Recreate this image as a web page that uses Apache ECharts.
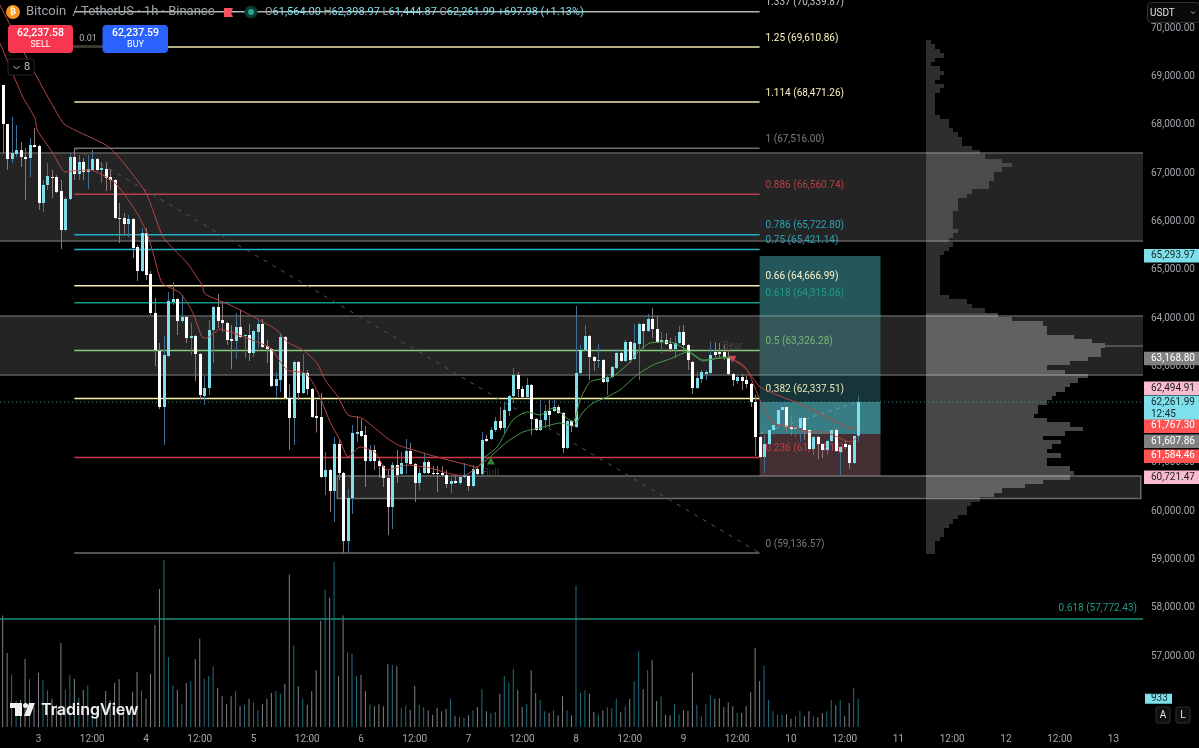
<!DOCTYPE html>
<html>
<head>
<meta charset="utf-8">
<title>BTCUSDT 1h</title>
<style>html,body{margin:0;padding:0;background:#000}#chart{width:1199px;height:748px}</style>
<script src="https://cdn.jsdelivr.net/npm/echarts@6/dist/echarts.min.js"></script>
</head>
<body>
<div id="chart"></div>
<script>
// Hourly bars: index 0 is the 00:00 candle of the 3rd.
const firstBar = -8;
const opens = [68824,68017,67293,67396,67479,67334,67313,67582,67562,66382,66755,66920,66920,66630,65823,66465,67334,66982,67231,67024,67065,67293,67065,67086,66920,66858,66071,66071,65947,66051,65471,64974,65761,64912,64105,63318,62159,63215,64333,64395,63939,64022,63587,63629,63256,62387,62552,63753,64229,63960,63898,63566,63525,63815,63629,63650,63277,63712,63877,63422,63360,62594,62718,63608,62345,61931,63091,62449,62863,62532,61973,61952,60710,60855,60420,61393,60793,59385,60275,61600,61662,61580,61041,61269,61041,60938,60689,60089,60958,60772,61000,61248,60979,60586,60793,61020,60793,60793,60793,60752,60565,60627,60586,60710,60731,60524,60876,60772,61497,61497,61683,61869,61724,62076,62387,62821,62532,62366,62615,61911,61683,61890,62076,62076,62159,62035,61310,61869,61745,62863,63339,63629,63194,63111,63132,62677,62780,62966,63277,63111,63505,63153,63463,63877,63732,63981,63774,63505,63546,63463,63360,63484,63712,63443,63091,62552,62739,62842,62863,63298,63298,63298,63194,62842,62697,62780,62718,62635,62263,61538,61124,61393,61683,61786,62097,62159,61745,61704,61724,61931,61683,61290,61538,61393,61269,61455,61683,61228,61393,61372,61000,61564];
const highs = [68830,68017,68162,67996,67645,67520,67727,67934,67590,66858,67210,67065,66962,66858,66506,67417,67520,67376,67313,67376,67479,67313,67231,67231,67065,66879,66382,66175,66134,66071,65513,65864,65864,64974,64415,63484,63629,64540,64747,64415,64478,64043,63898,63650,63277,62801,63960,64250,64498,64333,63919,63856,64105,64167,63660,63877,63753,63981,63981,63546,63380,62884,63691,63629,62635,63111,63111,63256,62925,62552,62304,62449,61228,60876,61538,61497,60814,60462,61786,61973,61911,61766,61372,61372,61062,60958,60855,61020,61269,61228,61497,61414,61000,60896,61207,61062,60938,60938,60938,60855,60689,60752,60752,61000,60752,60958,60917,61642,61580,61745,61952,62159,62242,62407,62966,62884,62594,62759,62635,61931,62304,62200,62304,62304,62200,62056,61890,61890,64250,63443,63856,63650,63215,63463,63153,62801,63008,63360,63298,63546,63525,63877,63898,63898,64084,64208,64043,63712,63691,63587,63629,63836,63856,63463,63111,62884,62925,62925,63505,63505,63484,63443,63339,62863,62821,62842,62801,62656,62407,61559,61580,61724,61848,62138,62263,62180,61993,61786,61973,61952,61704,61559,61559,61414,61476,61828,61724,61352,61476,61393,61580,62398.97];
const lows = [67417,67065,67210,67334,67127,66444,66920,67530,66237,66196,66651,66485,66589,65429,65802,66444,66858,66858,66858,66672,67044,67044,66796,66630,66651,66051,65554,65720,65678,65243,64767,64954,64788,64064,63008,62118,61372,63194,64270,63650,63898,63484,63236,62697,62325,62200,62407,63070,63794,63712,63443,62946,63153,63587,63173,63111,63194,63380,63380,63070,62573,62345,62470,62325,61269,61372,62304,62428,62407,61931,61631,60689,60337,59986,59779,60648,59137,59137,59944,61435,61538,60503,61020,60855,60689,60503,59510,59634,60586,60752,60772,60958,60193,60441,60772,60772,60752,60400,60710,60482,60379,60565,60544,60689,60420,60503,60752,60752,61435,61476,61642,61683,61621,61973,62242,62366,62345,62345,61580,61662,61662,61724,61745,62056,62014,61207,61290,61642,61724,62842,63318,62718,62904,62966,62656,62407,62759,62946,63091,63091,63070,63132,62718,63360,63712,63587,63484,63277,63443,63298,63173,63463,63298,62925,62428,62532,62656,62718,62842,63173,63173,63132,62821,62594,62635,62511,62552,62159,61145,61103,60793,61372,61580,61766,61724,61642,61580,61538,61435,61476,61269,61166,61083,61103,61166,61435,61228,60752,61290,60876,60979,61444.87];
const closes = [68017,67293,67417,67479,67334,67293,67582,67541,66382,66755,66941,66899,66610,65823,66465,67334,66982,67231,67024,67086,67293,67065,67106,66899,66858,66071,66051,65947,66051,65450,64974,65761,64891,64105,63339,62159,63236,64353,64395,63939,64022,63587,63629,63256,62407,62552,63753,64229,63939,63898,63546,63525,63815,63608,63650,63277,63732,63877,63401,63360,62594,62739,63608,62345,61931,63091,62449,62863,62532,61952,61931,60710,60855,60420,61393,60793,59385,60275,61621,61642,61559,61041,61269,61041,60938,60689,60089,60958,60752,61000,61248,60979,60586,60793,61020,60793,60772,60772,60752,60565,60627,60586,60710,60752,60524,60876,60772,61476,61455,61683,61869,61724,62097,62387,62821,62532,62366,62615,61911,61683,61890,62076,61993,62159,62035,61310,61869,61766,62863,63339,63629,63194,63111,63132,62677,62780,62987,63277,63111,63505,63132,63484,63877,63732,63981,63774,63505,63546,63463,63360,63484,63712,63443,63132,62552,62759,62884,62884,63236,63236,63256,63194,62842,62718,62780,62697,62635,62263,61538,61124,61393,61683,61786,62097,62159,61745,61704,61745,61931,61683,61290,61538,61393,61269,61455,61683,61248,61331,61331,61000,61559,62261.99];
const volumes = [3685,2442,1738,880,902,2255,1573,660,1793,1540,1210,935,715,2772,1232,1705,1595,968,1232,1375,550,440,770,1188,880,1463,1573,660,550,1155,1815,1210,935,1749,3355,4554,5511,2310,1375,1232,770,1452,1507,2233,2915,1595,1683,2002,1287,1012,748,1012,1177,693,737,935,803,550,770,935,1122,1188,1100,1430,5038,2695,1342,935,737,1177,1870,3498,4543,4268,5445,1672,3685,2453,2420,1672,1727,1177,748,682,748,682,2068,2046,2002,638,715,572,1353,737,660,550,407,638,517,605,935,352,330,308,385,550,660,1243,517,462,495,1100,1683,1463,1925,1210,660,770,1870,1122,902,517,462,550,385,1012,550,385,4675,1122,1210,1100,495,418,550,660,616,935,484,682,935,1507,2497,1243,1870,2200,858,1012,407,385,770,418,550,528,1793,737,352,748,1067,935,946,660,814,682,473,462,682,1155,2618,1507,2024,902,517,418,407,418,275,352,528,352,517,352,330,462,517,902,715,880,352,792,1298,933];

// Moving averages as [bar, price] readings.
const ribbonUpperRed = [[-8.6,70480],[-1.2,69135],[5.5,68038],[8.1,67893],[16,67520],[24,66589],[27.8,65678],[33.2,65140],[36.5,64684],[37.2,64498],[42.8,64270],[47.2,64064],[53.2,63753],[55.5,63505],[59,63339],[62.2,63070],[64,62718],[66.9,62366],[69.1,61993],[72.2,61931],[75.6,61683],[77.8,61517],[80.3,61372],[83.7,61269],[89,61124],[94.1,61000],[97.9,60917],[99.3,61050]];
const ribbonLowerRed = [[-8.6,69694],[-3.5,68576],[-0.8,68141],[-0.3,67893],[3.2,67417],[5.9,67024],[7.5,67044],[11.5,67065],[17.1,66796],[22,66175],[24.2,65761],[25.6,65347],[27.6,64726],[31.6,64519],[34.5,64105],[36.5,63608],[37.6,63587],[40.5,63774],[42.8,63712],[46.5,63587],[51.7,63380],[55.5,62925],[59.5,62863],[61.3,62656],[63.3,62263],[65.1,61848],[67.3,61476],[69.1,61124],[71.8,61331],[75.1,61228],[77.8,60855],[82.3,60958],[87.4,60896],[91.2,60793],[94.8,60731],[98.6,60958]];
const ribbonUpperGreen = [[99.3,61103],[102.4,61331],[105.9,61890],[109.1,62056],[112,61993],[114.9,62138],[119.3,61848],[120.9,62304],[123.1,62677],[125.4,62739],[128,62780],[131.4,63029],[134.3,63339],[136.5,63484],[141,63505],[145.5,63298],[148.4,63132],[152.9,63173],[154.9,63173]];
const ribbonLowerGreen = [[98.6,60958],[100.8,61124],[104.6,61435],[108.2,61642],[112.7,61745],[116.4,61828],[119.3,61766],[121.6,62056],[123.8,62242],[126.9,62366],[129.8,62511],[133.6,62821],[137.2,63029],[141,63153],[142.5,63215],[144.8,63298],[148.4,63111],[152.9,63194],[154.9,63173]];
const ribbonUpperRedLate = [[154.9,63153],[157.3,63029],[161.1,62573],[164.9,62407],[170.7,62200],[176,61952],[180.5,61745],[182.8,61724]];
const ribbonLowerRedLate = [[155.5,63111],[158.2,62925],[161.1,62304],[164,61828],[168.5,61745],[172.2,61642],[175.1,61642],[177.4,61580],[181.2,61435],[182.8,61538]];

// Fibonacci retracement levels.
const fibStart = 8, fibEnd = 161;
const fibRatios = ['1.337','1.25','1.114','1','0.886','0.786','0.75','0.66','0.618','0.5','0.382','0.236','0'];
const fibPrices = [70339.87,69610.86,68471.26,67516.00,66560.74,65722.80,65421.14,64666.99,64315.06,63326.28,62337.51,61114.11,59136.57];
const fibColors = ['#aeb8b4','#f2e6ae','#f2e6ae','#6e6e6e','#b8404c','#1eb0c6','#1eb0c6','#f4eab6','#0c9a84','#82cc7e','#f6f2a6','#c93a48','#6e6e6e'];
const fibLabelColors = ['#c2c8c0','#fbf2c0','#fbf2c0','#7c7c7c','#b8404c','#2aa5b8','#2aa5b8','#f8f2cc','#1f9c86','#78b878','#e8e8b8','#c0404c','#7c7c7c'];
const extensionPrice = 57772.43;
const extensionText = '0.618 (57,772.43)';

// Supply and demand zones: first bar, last bar, upper price, lower price.
const zoneStart = [-8.6,-8.6,66.7];
const zoneTop = [67416,64042,60731];
const zoneBottom = [65595,62821,60265];
const zoneEnd = [246.6,246.6,246.1];

// Long position tool shading bands, priced top to bottom.
const toolFirst = 161, toolLast = 188;
const toolEdges = [65293.97,64042,62821,62261.99,61607.86,60721.47];
const toolFills = ['rgba(85,195,205,0.44)','rgba(95,190,200,0.34)','rgba(80,190,200,0.28)','rgba(85,190,200,0.66)','rgba(190,130,140,0.36)'];

// Visible range volume profile, rows from the top.
const profileTopPrice = 69756, profileRowSize = 91;
const profileRows = [5,9,14,18,9,5,14,18,14,9,18,14,9,9,9,9,9,14,23,23,27,32,36,36,46,54,59,76,86,76,68,68,63,63,46,41,32,32,32,27,27,27,27,32,27,23,27,23,18,14,14,14,14,14,14,14,14,14,23,41,46,59,72,86,117,121,121,148,166,179,175,175,162,144,121,139,162,152,144,139,130,126,121,112,112,108,121,144,157,139,117,135,126,121,135,121,121,144,148,144,117,99,76,68,54,45,41,41,32,27,23,18,18,14,9,9,9];
const valueAreaHigh = 64084, valueAreaLow = 60255, pocPrice = 63421;

// Axis ticks.
const lastPrice = 62261.99;
const priceTicks = [57000,58000,59000,60000,61000,62000,63000,64000,65000,66000,67000,68000,69000,70000];
const timeTicks = [0,12,24,36,48,60,72,84,96,108,120,132,144,156,168,180,192,204,216,228,240];
const timeLabels = ['3','12:00','4','12:00','5','12:00','6','12:00','7','12:00','8','12:00','9','12:00','10','12:00','11','12:00','12','12:00','13'];

// Price scale tags: anchor price, text, fill, text colour.
const tagAnchors = [65293.97,63168.80,62552,62261.99,61767.30,61455,61145,60710];
const tagTexts = ['65,293.97','63,168.80','62,494.91','62,261.99','61,767.30','61,607.86','61,584.46','60,721.47'];
const tagFills = ['#7fdfea','#808080','#f8bbd0','#7fdfea','#ff5252','#808080','#ff5252','#f8bbd0'];
const tagInk = ['#12262a','#ffffff','#1c1c1c','#12262a','#ffffff','#ffffff','#ffffff','#1c1c1c'];

const UI_FONT = 'Roboto, "Liberation Sans", sans-serif';
const priceMin = 55535, priceMax = 70584;
const barMin = -8.596, barMax = 246.6;

const bars = opens.map((o, i) => [firstBar + i, o, closes[i], lows[i], highs[i]]);

function renderCandle(params, api) {
  const k = api.value(0), o = api.value(1), c = api.value(2), l = api.value(3), h = api.value(4);
  const up = c >= o;
  const x = Math.round(api.coord([k, o])[0]);
  const yO = api.coord([k, o])[1], yC = api.coord([k, c])[1];
  const yL = api.coord([k, l])[1], yH = api.coord([k, h])[1];
  const top = Math.min(yO, yC), height = Math.max(1, Math.abs(yC - yO));
  return { type: 'group', children: [
    { type: 'rect', shape: { x: x, y: yH, width: 1, height: yL - yH },
      style: { fill: up ? '#3f7199' : '#8c7878' } },
    { type: 'rect', shape: { x: x - 1, y: top, width: 3, height: height },
      style: { fill: up ? '#7fdfea' : '#ffffff' } }
  ] };
}

function renderBand(params, api) {
  const a = api.coord([api.value(0), api.value(2)]);
  const b = api.coord([api.value(1), api.value(3)]);
  return { type: 'rect', shape: { x: a[0], y: Math.round(a[1]), width: b[0] - a[0], height: Math.round(b[1]) - Math.round(a[1]) },
    style: { fill: toolFills[params.dataIndex] } };
}

// Full-width zones only show their upper and lower edges; a bounded zone gets a complete outline.
function renderZone(params, api) {
  const a = api.coord([api.value(0), api.value(2)]);
  const b = api.coord([api.value(1), api.value(3)]);
  const edge = { stroke: '#5e5e5e', lineWidth: 1.5 };
  const box = { x: a[0], y: a[1], width: b[0] - a[0], height: b[1] - a[1] };
  const bounded = api.value(0) > barMin;
  const kids = [{ type: 'rect', shape: box,
    style: bounded ? { fill: 'rgba(255,255,255,0.14)', stroke: '#6a6a6a', lineWidth: 1.5 } : { fill: 'rgba(255,255,255,0.14)' } }];
  if (!bounded) {
    kids.push({ type: 'line', shape: { x1: a[0], y1: a[1], x2: b[0], y2: a[1] }, style: edge });
    kids.push({ type: 'line', shape: { x1: a[0], y1: b[1], x2: b[0], y2: b[1] }, style: edge });
  }
  return { type: 'group', children: kids };
}

function renderProfileRow(params, api) {
  const a = api.coord([0, api.value(1)]);
  const b = api.coord([api.value(0), api.value(2)]);
  const mid = (api.value(1) + api.value(2)) / 2;
  const inValueArea = mid <= valueAreaHigh && mid >= valueAreaLow;
  const top = Math.round(a[1]), bottom = Math.round(b[1]);
  return { type: 'rect', shape: { x: a[0], y: top, width: Math.round(b[0] - a[0]), height: bottom - top },
    style: { fill: inValueArea ? 'rgba(255,255,255,0.28)' : 'rgba(255,255,255,0.18)' } };
}

function renderFib(params, api) {
  const i = params.dataIndex, p = api.value(0);
  const a = api.coord([fibStart, p]), b = api.coord([fibEnd, p]);
  return { type: 'group', children: [
    { type: 'line', shape: { x1: a[0], y1: a[1], x2: b[0], y2: b[1] },
      style: { stroke: fibColors[i], lineWidth: 1.5 } },
    { type: 'text', style: { x: b[0] + 6, y: a[1] - 9,
      text: fibRatios[i] + ' (' + p.toLocaleString('en-US', { minimumFractionDigits: 2, maximumFractionDigits: 2 }) + ')',
      fill: fibLabelColors[i], font: '10px ' + UI_FONT, textAlign: 'left', textVerticalAlign: 'middle' } }
  ] };
}

function renderTag(params, api) {
  const i = params.dataIndex, y = api.coord([0, api.value(0)])[1];
  const isLast = tagAnchors[i] === lastPrice;
  const kids = [
    { type: 'rect', shape: { x: 1144, y: y - 6.5, width: 55, height: isLast ? 25 : 13.5 }, style: { fill: tagFills[i] } },
    { type: 'text', style: { x: 1151, y: y, text: tagTexts[i], fill: tagInk[i], font: '10px ' + UI_FONT, textAlign: 'left', textVerticalAlign: 'middle' } }
  ];
  if (isLast) {
    kids.push({ type: 'text', style: { x: 1151, y: y + 12, text: '12:45', fill: tagInk[i], font: '10px ' + UI_FONT, textAlign: 'left', textVerticalAlign: 'middle' } });
  }
  return { type: 'group', children: kids };
}

function renderVolumeTag(params, api) {
  const y = api.coord([0, api.value(0)])[1];
  return { type: 'group', children: [
    { type: 'rect', shape: { x: 1145, y: y - 5, width: 27, height: 10 }, style: { fill: '#7fdfea' } },
    { type: 'text', style: { x: 1151, y: y, text: String(api.value(0)), fill: '#12262a', font: '10px ' + UI_FONT, textAlign: 'left', textVerticalAlign: 'middle' } }
  ] };
}

const toolBands = toolFills.map((_, i) => [toolFirst, toolLast, toolEdges[i], toolEdges[i + 1]]);
const zones = zoneStart.map((s, i) => [s, zoneEnd[i], zoneTop[i], zoneBottom[i]]);
const profile = profileRows.map((w, i) => [w, profileTopPrice - i * profileRowSize, profileTopPrice - (i + 1) * profileRowSize]);

function ribbon(name, points, color) {
  return { name: name, type: 'line', data: points, showSymbol: false, silent: true, z: 7, smooth: 0.2,
    lineStyle: { color: color, width: 1 }, xAxisIndex: 0, yAxisIndex: 0 };
}

function rule(name, points, color, width, dash, z) {
  return { name: name, type: 'line', data: points, showSymbol: false, silent: true, z: z,
    lineStyle: { color: color, width: width, type: dash }, xAxisIndex: 0, yAxisIndex: 0 };
}

const option = {
  backgroundColor: '#000000',
  animation: false,
  tooltip: { show: false },
  grid: [
    { left: 0, top: 0, width: 1143, height: 727 },
    { left: 926, top: 0, width: 217, height: 727 }
  ],
  xAxis: [
    { type: 'value', gridIndex: 0, min: barMin, max: barMax, splitLine: { show: false },
      axisLine: { show: false }, axisTick: { show: false },
      axisLabel: { customValues: timeTicks, color: '#a3a6ad', fontSize: 10, fontFamily: UI_FONT, margin: 7,
        formatter: v => timeLabels[timeTicks.indexOf(v)] } },
    { type: 'value', gridIndex: 1, min: 0, max: 217, show: false }
  ],
  yAxis: [
    { type: 'value', gridIndex: 0, position: 'right', min: priceMin, max: priceMax, splitLine: { show: false },
      axisLine: { show: false }, axisTick: { show: false },
      axisLabel: { customValues: priceTicks, color: '#a3a6ad', fontSize: 10, fontFamily: UI_FONT, margin: 8,
        formatter: v => v.toLocaleString('en-US', { minimumFractionDigits: 2 }) } },
    { type: 'value', gridIndex: 0, min: 0, max: 24000, show: false },
    { type: 'value', gridIndex: 1, min: priceMin, max: priceMax, show: false }
  ],
  series: [
    { name: 'Zones', type: 'custom', renderItem: renderZone, data: zones, z: 1, silent: true },
    { name: 'Long position', type: 'custom', renderItem: renderBand, data: toolBands, z: 2, silent: true },
    { name: 'Volume profile', type: 'custom', renderItem: renderProfileRow, data: profile,
      xAxisIndex: 1, yAxisIndex: 2, z: 3, silent: true },
    rule('Point of control', [[179 * (barMax - barMin) / 1143 + 926 * (barMax - barMin) / 1143 + barMin, pocPrice], [barMax, pocPrice]], '#808080', 1, 'solid', 3),
    { name: 'Volume', type: 'bar', xAxisIndex: 0, yAxisIndex: 1, barWidth: 1, z: 3, silent: true,
      data: volumes.map((v, i) => ({ value: [firstBar + i, v],
        itemStyle: { color: closes[i] >= opens[i] ? '#1f6f7e' : '#808080' } })) },
    rule('Fib extension', [[barMin, extensionPrice], [barMax, extensionPrice]], '#1f8a7c', 1.5, 'solid', 4),
    rule('Fib trend', [[fibStart, fibPrices[3]], [fibEnd, fibPrices[12]]], '#555555', 1, [4, 6], 4),
    rule('Last price', [[barMin, lastPrice], [barMax, lastPrice]], '#3f8d99', 1, [1, 3], 4),
    rule('Entry drift', [[161, 61607.86], [183, lastPrice]], '#6f9ea0', 1, [4, 4], 4),
    { name: 'Fib levels', type: 'custom', renderItem: renderFib, data: fibPrices.map(p => [p]), z: 4, silent: true,
      encode: { y: 0 } },
    { name: 'Bars', type: 'custom', renderItem: renderCandle, data: bars, z: 6, silent: true,
      encode: { x: 0, y: [1, 2, 3, 4] } },
    ribbon('Upper red', ribbonUpperRed, '#b84444'),
    ribbon('Lower red', ribbonLowerRed, '#b84444'),
    ribbon('Upper green', ribbonUpperGreen, '#4a9a4a'),
    ribbon('Lower green', ribbonLowerGreen, '#4a9a4a'),
    ribbon('Upper red late', ribbonUpperRedLate, '#b84444'),
    ribbon('Lower red late', ribbonLowerRedLate, '#b84444'),
    { name: 'Signals', type: 'scatter', silent: true, z: 8, symbol: 'triangle', symbolSize: [8, 7],
      data: [
        { value: [101, 61040], itemStyle: { color: '#3fa84a' },
          label: { show: true, position: 'bottom', distance: 4, formatter: 'Bull', color: '#4a4a4a', fontSize: 10, fontFamily: UI_FONT } },
        { value: [155, 63150], symbolRotate: 180, itemStyle: { color: '#e8505a' },
          label: { show: true, position: 'top', distance: 4, formatter: 'Bear', color: '#4a4a4a', fontSize: 10, fontFamily: UI_FONT } }
      ] },
    { name: 'Price tags', type: 'custom', renderItem: renderTag, data: tagAnchors.map(p => [p]), z: 20, silent: true, encode: { y: 0 } },
    { name: 'Volume tag', type: 'custom', renderItem: renderVolumeTag, data: [[volumes[volumes.length - 1]]],
      yAxisIndex: 1, z: 20, silent: true, encode: { y: 0 } }
  ],
  graphic: { elements: [
    // legend row
    { type: 'circle', z: 50, shape: { cx: 13, cy: 12, r: 7 }, style: { fill: '#f7931a' } },
    { type: 'text', z: 51, style: { x: 13, y: 12, text: '₿', fill: '#fff', font: 'bold 9px "DejaVu Sans"', textAlign: 'center', textVerticalAlign: 'middle' } },
    { type: 'text', z: 50, style: { x: 26, y: 12, text: 'Bitcoin  / TetherUS · 1h · Binance', fill: '#a0a4aa', font: '13px ' + UI_FONT, textAlign: 'left', textVerticalAlign: 'middle' } },
    { type: 'polygon', z: 50, shape: { points: [[224, 8], [233, 8], [231, 12.5], [233, 17], [224, 17]] }, style: { fill: '#f7525f' } },
    { type: 'circle', z: 50, shape: { cx: 251, cy: 12, r: 6.5 }, style: { fill: '#0c3a33' } },
    { type: 'circle', z: 51, shape: { cx: 251, cy: 12, r: 3 }, style: { fill: '#26a69a' } },
    { type: 'text', z: 50, style: { x: 265, y: 12, textVerticalAlign: 'middle', textAlign: 'left', font: '11px ' + UI_FONT,
      text: '{g|O}{c|61,564.00} {g|H}{c|62,398.97} {g|L}{c|61,444.87} {g|C}{c|62,261.99} {c|+697.98 (+1.13%)}',
      rich: { g: { fill: '#9aa0a6', font: '11px ' + UI_FONT }, c: { fill: '#7fdfea', font: '11px ' + UI_FONT } } } },
    // order buttons
    { type: 'rect', z: 50, shape: { x: 73, y: 45, width: 30, height: 3 }, style: { fill: '#3a3a32' } },
    { type: 'rect', z: 51, shape: { x: 8, y: 25, width: 65, height: 28, r: 4 }, style: { fill: '#f7374f' } },
    { type: 'text', z: 52, style: { x: 40.5, y: 33.5, text: '62,237.58', fill: '#fff', font: '500 10.5px ' + UI_FONT, textAlign: 'center', textVerticalAlign: 'middle' } },
    { type: 'text', z: 52, style: { x: 40.5, y: 45, text: 'SELL', fill: '#fff', font: '9px ' + UI_FONT, textAlign: 'center', textVerticalAlign: 'middle' } },
    { type: 'text', z: 52, style: { x: 88, y: 38.5, text: '0.01', fill: '#b8b8b8', font: '9px ' + UI_FONT, textAlign: 'center', textVerticalAlign: 'middle' } },
    { type: 'rect', z: 51, shape: { x: 102.5, y: 25, width: 65.5, height: 28, r: 4 }, style: { fill: '#2962ff' } },
    { type: 'text', z: 52, style: { x: 135.5, y: 33.5, text: '62,237.59', fill: '#fff', font: '500 10.5px ' + UI_FONT, textAlign: 'center', textVerticalAlign: 'middle' } },
    { type: 'text', z: 52, style: { x: 135.5, y: 45, text: 'BUY', fill: '#fff', font: '9px ' + UI_FONT, textAlign: 'center', textVerticalAlign: 'middle' } },
    // collapsed indicators chip
    { type: 'rect', z: 50, shape: { x: 8, y: 59, width: 26, height: 16, r: 2 }, style: { fill: '#000', stroke: '#262626', lineWidth: 1 } },
    { type: 'polyline', z: 51, shape: { points: [[13.5, 66], [16.5, 69], [19.5, 66]] }, style: { stroke: '#c0c0c0', lineWidth: 1, fill: 'none' } },
    { type: 'text', z: 51, style: { x: 27, y: 67, text: '8', fill: '#c0c0c0', font: '11px ' + UI_FONT, textAlign: 'center', textVerticalAlign: 'middle' } },
    // currency selector
    { type: 'rect', z: 50, shape: { x: 1147.5, y: 2.5, width: 52, height: 20, r: 3 }, style: { fill: '#0a0a0a', stroke: '#303030', lineWidth: 1 } },
    { type: 'text', z: 51, style: { x: 1150, y: 13, text: 'USDT', fill: '#e0e0e0', font: '10px ' + UI_FONT, textAlign: 'left', textVerticalAlign: 'middle' } },
    { type: 'polyline', z: 51, shape: { points: [[1191, 11.5], [1193, 13.5], [1195, 11.5]] }, style: { stroke: '#b0b0b0', lineWidth: 1, fill: 'none' } },
    // scale mode buttons
    { type: 'rect', z: 50, shape: { x: 1156, y: 707, width: 14, height: 16, r: 2 }, style: { fill: '#101010', stroke: '#2e2e2e', lineWidth: 1 } },
    { type: 'text', z: 51, style: { x: 1163, y: 715, text: 'A', fill: '#e6e6e6', font: '10px ' + UI_FONT, textAlign: 'center', textVerticalAlign: 'middle' } },
    { type: 'rect', z: 50, shape: { x: 1176, y: 707, width: 14, height: 16, r: 2 }, style: { fill: '#101010', stroke: '#2e2e2e', lineWidth: 1 } },
    { type: 'text', z: 51, style: { x: 1183, y: 715, text: 'L', fill: '#e6e6e6', font: '10px ' + UI_FONT, textAlign: 'center', textVerticalAlign: 'middle' } },
    // wordmark
    { type: 'polygon', z: 50, shape: { points: [[10, 703], [22, 703], [22, 716], [15, 716], [15, 708], [10, 708]] }, style: { fill: '#f0f0f0' } },
    { type: 'circle', z: 50, shape: { cx: 25.5, cy: 705.5, r: 2.5 }, style: { fill: '#f0f0f0' } },
    { type: 'polygon', z: 50, shape: { points: [[29, 703], [35, 703], [30, 716], [24, 716]] }, style: { fill: '#f0f0f0' } },
    { type: 'text', z: 50, style: { x: 41, y: 710, text: 'TradingView', fill: '#f0f0f0', font: '600 16px Inter, ' + UI_FONT, textAlign: 'left', textVerticalAlign: 'middle' } },
    { type: 'text', z: 4, style: { x: 1137, y: 608.5, text: extensionText, fill: '#1f9a86', font: '10px ' + UI_FONT, textAlign: 'right', textVerticalAlign: 'middle' } }
  ] }
};

echarts.init(document.getElementById('chart'), null, { renderer: 'canvas' }).setOption(option);
</script>
</body>
</html>
